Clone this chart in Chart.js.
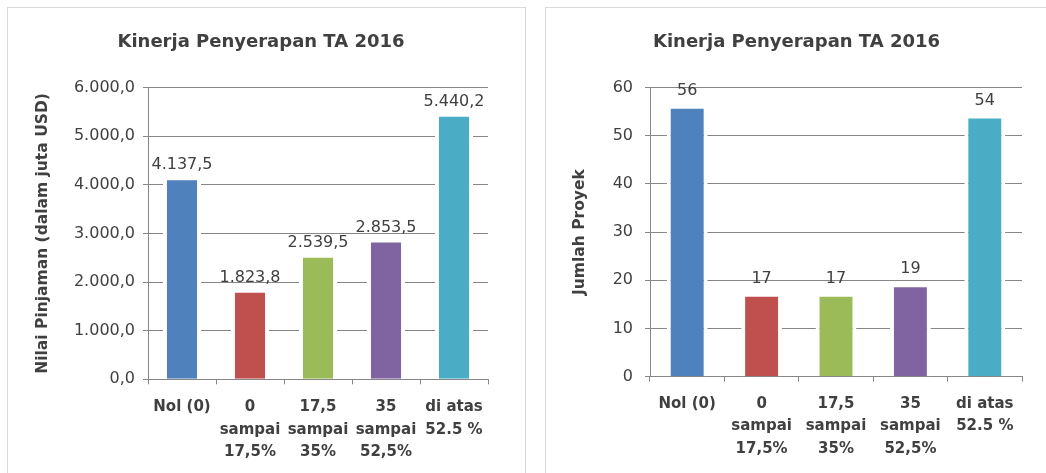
<!DOCTYPE html>
<html>
<head>
<meta charset="utf-8">
<script src="https://cdn.jsdelivr.net/npm/chart.js@4.4.1/dist/chart.umd.min.js"></script>
<style>
  html, body { margin: 0; padding: 0; background: #ffffff; overflow: hidden; }
  .box { position: absolute; border: 1px solid #d9d9d9; background: #fff; }
  #box1 { left: 7px; top: 7px; width: 517px; height: 480px; }
  #box2 { left: 545px; top: 7px; width: 502px; height: 480px; }
  canvas { display: block; }
</style>
</head>
<body>
<div class="box" id="box1"><canvas id="c1" width="517" height="465"></canvas></div>
<div class="box" id="box2"><canvas id="c2" width="500" height="465"></canvas></div>
<script>
// ---- data ----
const chartTitle = 'Kinerja Penyerapan TA 2016';
const categories = [
  'Nol (0)',
  ['0', 'sampai', '17,5%'],
  ['17,5', 'sampai', '35%'],
  ['35', 'sampai', '52,5%'],
  ['di atas', '52.5 %']
];
const barColors = ['#4F81BD', '#C0504D', '#9BBB59', '#8064A2', '#4BACC6'];

const loanValues = [4137.5, 1823.8, 2539.5, 2853.5, 5440.2];
const loanAxisTitle = 'Nilai Pinjaman (dalam juta USD)';
const loanTickLabels = ['0,0', '1.000,0', '2.000,0', '3.000,0', '4.000,0', '5.000,0', '6.000,0'];

const projectValues = [56, 17, 17, 19, 54];
const projectAxisTitle = 'Jumlah Proyek';
const projectTickLabels = ['0', '10', '20', '30', '40', '50', '60'];

// ---- helpers ----
const FONT = "'DejaVu Sans', sans-serif";
const TEXT = '#404040';
const GRID = '#868686';

function fmtId(v, dec) {
  const fixed = v.toFixed(dec);
  let [intPart, frac] = fixed.split('.');
  intPart = intPart.replace(/\B(?=(\d{3})+(?!\d))/g, '.');
  return frac !== undefined ? intPart + ',' + frac : intPart;
}

const valueLabelPlugin = {
  id: 'valueLabels',
  afterDatasetsDraw(chart, args, opts) {
    const ctx = chart.ctx;
    ctx.save();
    ctx.font = '16px ' + FONT;
    ctx.fillStyle = TEXT;
    ctx.textAlign = 'center';
    ctx.textBaseline = 'bottom';
    const meta = chart.getDatasetMeta(0);
    const data = chart.data.datasets[0].data;
    meta.data.forEach((bar, i) => {
      ctx.fillText(fmtId(data[i], opts.decimals), bar.x, bar.y - opts.offset);
    });
    ctx.restore();
  }
};

function makeChart(id, values, axisTitle, tickLabels, maxV, step, cfg) {
  return new Chart(document.getElementById(id), {
    type: 'bar',
    data: {
      labels: categories,
      datasets: [{
        data: values,
        backgroundColor: barColors,
        borderColor: '#ffffff',
        borderWidth: { top: 2, left: 4, right: 4, bottom: 0 },
        borderSkipped: false,
        categoryPercentage: 1,
        barPercentage: cfg.barPct
      }]
    },
    options: {
      responsive: false,
      animation: false,
      events: [],
      layout: { padding: { left: cfg.padLeft, right: cfg.padRight, top: 0, bottom: 0 } },
      plugins: {
        legend: { display: false },
        tooltip: { enabled: false },
        title: {
          display: true,
          text: chartTitle,
          color: TEXT,
          font: { family: FONT, size: 18, weight: 'bold' },
          padding: { top: 24, bottom: 34 }
        },
        valueLabels: { decimals: cfg.decimals, offset: cfg.labelOffset }
      },
      scales: {
        x: {
          grid: { display: true, drawOnChartArea: false, drawTicks: true, tickLength: 5, color: GRID, offset: true },
          border: { display: true, color: GRID, width: 1 },
          ticks: {
            color: TEXT,
            font: { family: FONT, size: 15, weight: 'bold', lineHeight: 1.5 },
            autoSkip: false, maxRotation: 0, minRotation: 0, padding: cfg.xPad
          },
          afterFit(scale) { scale.height = cfg.xHeight; }
        },
        y: {
          min: 0, max: maxV,
          grid: { color: GRID, lineWidth: 1, tickLength: 5, drawTicks: true },
          border: { display: true, color: GRID, width: 1 },
          ticks: {
            stepSize: step,
            color: TEXT,
            font: { family: FONT, size: 16 },
            padding: cfg.tickPad,
            callback: (v, i) => tickLabels[i]
          },
          title: {
            display: true,
            text: axisTitle,
            color: TEXT,
            font: { family: FONT, size: 15.5, weight: 'bold' },
            padding: { top: cfg.titlePad, bottom: 0 }
          },
          afterFit(scale) { scale.width = cfg.yWidth; }
        }
      }
    },
    plugins: [valueLabelPlugin]
  });
}

makeChart('c1', loanValues, loanAxisTitle, loanTickLabels, 6000, 1000,
  { barPct: 0.56, padLeft: 26, padRight: 37, xHeight: 93.7, yWidth: 114, tickPad: 8, titlePad: 0, xPad: 12, decimals: 1, labelOffset: 5 });
makeChart('c2', projectValues, projectAxisTitle, projectTickLabels, 60, 10,
  { barPct: 0.55, padLeft: 25, padRight: 24, xHeight: 96.3, yWidth: 79, tickPad: 12, titlePad: 0, xPad: 11, decimals: 0, labelOffset: 8 });
</script>
</body>
</html>
